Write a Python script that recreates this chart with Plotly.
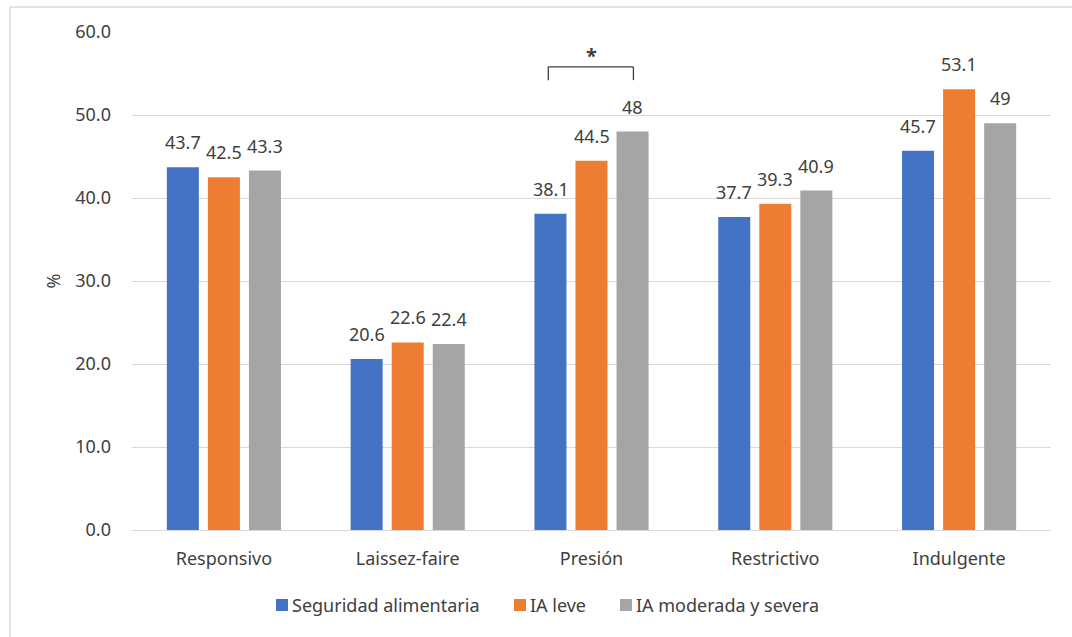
import plotly.graph_objects as go

# Estilos de alimentación por nivel de inseguridad alimentaria
categorias = ["Responsivo", "Laissez-faire", "Presión", "Restrictivo", "Indulgente"]
seguridad = [43.7, 20.6, 38.1, 37.7, 45.7]
ia_leve = [42.5, 22.6, 44.5, 39.3, 53.1]
ia_mod_sev = [43.3, 22.4, 48, 40.9, 49]
series = [
    ("Seguridad alimentaria", seguridad, "#4472C4"),
    ("IA leve", ia_leve, "#ED7D31"),
    ("IA moderada y severa", ia_mod_sev, "#A5A5A5"),
]
y_ticks = [0, 10, 20, 30, 40, 50, 60]

FONT = "Noto Sans"
TXT = "#404040"
FS = 18

W, H = 1072, 637
ML, MR, MT, MB = 132, 21, 32, 107
PW, PH = W - ML - MR, H - MT - MB


def px(x):
    return (x - ML) / PW


def py(y):
    return (H - MB - y) / PH


fig = go.Figure()
bar_offsets = [-41, 0, 41]  # desplazamiento horizontal (px) de cada serie en el grupo
for (nombre, valores, color), dx in zip(series, bar_offsets):
    fig.add_trace(go.Bar(
        name=nombre, x=categorias, y=valores,
        marker=dict(color=color, line=dict(width=0)),
        showlegend=False,
    ))
    # Etiquetas de valor sobre cada barra
    for cat, v in zip(categorias, valores):
        fig.add_annotation(x=cat, y=v, xref="x", yref="y", text=f"{v:g}",
                           showarrow=False, xshift=dx, yshift=11, yanchor="bottom",
                           font=dict(family=FONT, size=FS, color=TXT))

# Corchete de significancia sobre "Presión"
idx = categorias.index("Presión")
x0, x1 = idx - 0.235, idx + 0.228
y_top, y_low = 55.8, 54.2
line_style = dict(color="#404040", width=1.3)
fig.add_shape(type="line", xref="x", yref="y", x0=x0, x1=x1, y0=y_top, y1=y_top, line=line_style)
fig.add_shape(type="line", xref="x", yref="y", x0=x0, x1=x0, y0=y_top, y1=y_low, line=line_style)
fig.add_shape(type="line", xref="x", yref="y", x0=x1, x1=x1, y0=y_top, y1=y_low, line=line_style)
fig.add_annotation(x=idx, y=57.2, xref="x", yref="y", text="<b>*</b>", showarrow=False,
                   font=dict(family=FONT, size=20, color=TXT))

# Leyenda inferior: cuadro de color + texto
legend_x = [276, 514, 620]
for (nombre, _, color), lx in zip(series, legend_x):
    fig.add_shape(type="rect", xref="paper", yref="paper",
                  x0=px(lx), x1=px(lx + 12), y0=py(599), y1=py(611),
                  fillcolor=color, line=dict(width=0))
    fig.add_annotation(x=px(lx + 14), y=py(605), xref="paper", yref="paper",
                       text=nombre, showarrow=False, xanchor="left", yanchor="middle",
                       font=dict(family=FONT, size=FS, color=TXT))

# Marco exterior del gráfico
frame = dict(color="#D9D9D9", width=1.5)
fig.add_shape(type="line", xref="paper", yref="paper", x0=px(10), x1=px(1080), y0=py(7), y1=py(7), line=frame)
fig.add_shape(type="line", xref="paper", yref="paper", x0=px(10), x1=px(10), y0=py(7), y1=py(650), line=frame)

fig.update_layout(
    width=W, height=H,
    margin=dict(l=ML, r=MR, t=MT, b=MB),
    paper_bgcolor="white", plot_bgcolor="white",
    barmode="group", bargap=0.33, bargroupgap=0.22,
    font=dict(family=FONT, size=FS, color=TXT),
    showlegend=False,
    xaxis=dict(showgrid=False, showline=True, linecolor="#D9D9D9", linewidth=1.3,
               ticks="", ticklabelstandoff=12, tickfont=dict(family=FONT, size=FS, color=TXT)),
    yaxis=dict(range=[0, 60], tickvals=y_ticks, tickformat=".1f",
               showgrid=True, gridcolor="#D9D9D9", gridwidth=1.3, zeroline=False,
               showline=False, ticks="", ticklabelstandoff=20,
               tickfont=dict(family=FONT, size=FS, color=TXT),
               title=dict(text="%", standoff=9, font=dict(family=FONT, size=FS, color=TXT))),
)

fig.write_html("out.html")
